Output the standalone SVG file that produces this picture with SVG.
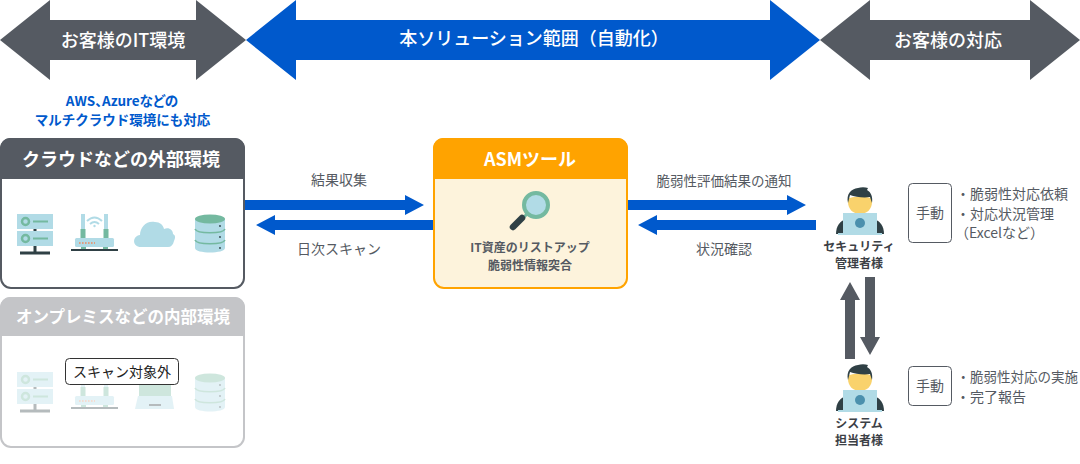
<svg xmlns="http://www.w3.org/2000/svg" width="1080" height="464" viewBox="0 0 1080 464">
<style>
text{font-family:"Noto Sans CJK JP","Noto Sans",sans-serif;text-anchor:middle}
.b{font-weight:500}.h{font-weight:700}
.w{fill:#fff}.d{fill:#555a62}.k{fill:#3c4046}.bl{fill:#0059cc}
.l{text-anchor:start;fill:#555a62;font-size:14px}
.sv{fill:#b1dbe6}.gr{fill:#74b9a0}.dk{fill:#2f4045}
</style>
<defs>
<g id="server">
<rect x="17" y="214" width="36" height="15" class="sv"/><rect x="17" y="231" width="36" height="15" class="sv"/>
<circle cx="25.500" cy="221.500" r="3.500" fill="none" stroke="#74b9a0" stroke-width="2.500"/><circle cx="25.500" cy="238.500" r="3.500" fill="none" stroke="#74b9a0" stroke-width="2.500"/>
<rect x="33" y="220.500" width="15" height="2" class="gr"/><rect x="33" y="237.500" width="15" height="2" class="gr"/>
<rect x="33.500" y="229" width="3" height="2" class="dk"/><rect x="33.500" y="246" width="3" height="8" class="dk"/><rect x="20" y="251.500" width="30" height="3" class="dk"/>
</g>
<g id="router">
<rect x="81" y="214" width="4" height="16" class="sv"/><rect x="104" y="214" width="4" height="16" class="sv"/>
<rect x="80.500" y="229" width="5" height="10" class="gr"/><rect x="103.500" y="229" width="5" height="10" class="gr"/>
<path d="M87 221Q94.500 214 102 221M90 224Q94.500 220 99 224" fill="none" stroke="#b1dbe6" stroke-width="2"/><circle cx="94.500" cy="226" r="1.200" class="sv"/>
<rect x="75" y="238" width="39" height="9" rx="1.500" class="sv"/>
<rect x="81" y="247" width="5" height="2" class="gr"/><rect x="103" y="247" width="5" height="2" class="gr"/>
<path d="M79 243h16" stroke="#f08a5d" stroke-width="1.600" stroke-dasharray="1.600 1.400"/>
<rect x="71" y="249" width="47" height="2" class="dk"/>
</g>
<g id="db">
<path d="M195 219v29c0 6 30 6 30 0v-29z" class="sv"/><ellipse cx="210" cy="219" rx="15" ry="4.500" class="gr"/>
<path d="M195 229c2 5 28 5 30 0M195 240c2 5 28 5 30 0" fill="none" stroke="#74b9a0" stroke-width="1.600"/>
<circle cx="220" cy="226" r=".9" class="dk"/><circle cx="220" cy="237" r=".9" class="dk"/><circle cx="220" cy="248" r=".9" class="dk"/>
</g>
<g id="person">
<path d="M0 47c0-8 4-13 10-15L38 32c6 2 10 7 10 15z" class="dk"/>
<path d="M12 12v3c0 7 5 12 12 12s12-5 12-12v-3c-2-3-22-3-24 0z" fill="#f9d26c"/>
<path d="M12 16c-2-9 3-14 10-15 3-1 7-1 10 0l-1 2c4 2 6 7 5 13l-2-6c-6 1-15 0-20-2z" class="dk"/>
<rect x="7" y="26" width="34" height="21" class="sv"/><rect x="2" y="46" width="44" height="2" class="sv"/>
<circle cx="24" cy="36" r="5" fill="#4b90ad"/>
</g>
</defs>

<g id="connectors">
<path class="d" d="M0 40 50 0V20H196V0L246 40 196 80V60H50V80Z"/>
<path class="bl" d="M246 40 296 0V20H770V0L820 40 770 80V60H296V80Z"/>
<path class="d" d="M820 40 870 0V20H1030V0L1080 40 1030 80V60H870V80Z"/>
<path class="bl" d="M244 200H405V195L424 205 405 215V210H244Z"/>
<path class="bl" d="M433 220H275V215L256 225 275 235V230H433Z"/>
<path class="bl" d="M628 200H787V195L806 205 787 215V210H628Z"/>
<path class="bl" d="M816 220H657V215L638 225 657 235V230H816Z"/>
<path class="d" d="M845 359V300H840L850 282 860 300H855V359Z"/>
<path class="d" d="M865 277H875V337H880L870 355 860 337H865Z"/>
</g>

<g id="band-labels">
<text class="b w" x="123" y="47" font-size="18">お客様のIT環境</text>
<text class="b w" x="534" y="45" font-size="18">本ソリューション範囲（自動化）</text>
<text class="b w" x="948" y="47" font-size="18">お客様の対応</text>
</g>

<g id="note"><text class="h bl" x="122" y="106" font-size="13.500" style="font-feature-settings:'palt'">AWS、Azureなどの</text><text class="h bl" x="122.500" y="125" font-size="13.500">マルチクラウド環境にも対応</text></g>

<g id="cloud-env">
<rect x="1" y="139" width="243" height="149" rx="10" fill="#fff" stroke="#555a62" stroke-width="2"/>
<path class="d" d="M0 179V148a10 10 0 0 1 10-10H235a10 10 0 0 1 10 10V179Z"/>
<text class="h w" x="121" y="166" font-size="18">クラウドなどの外部環境</text>
<use href="#server"/><use href="#router"/>
<path class="sv" d="M141 247c-9 0-9-11-1-12 0-8 7-15 15-13 5 0 8 3 9 7 5-2 9 1 9 5 2 1 3 3 1 7-1 4-3 6-6 6z"/>
<use href="#db"/>
</g>

<g id="onprem-env">
<rect x="1" y="298" width="243" height="149" rx="10" fill="#fff" stroke="#c4c5c8" stroke-width="2"/>
<path fill="#c4c5c8" d="M0 336V307a10 10 0 0 1 10-10H235a10 10 0 0 1 10 10V336Z"/>
<text class="h w" x="123" y="323" font-size="16.500">オンプレミスなどの内部環境</text>
<g opacity=".35">
<use href="#server" y="158"/><use href="#router" y="158"/>
<rect x="139" y="384" width="32" height="12" class="gr"/><path class="sv" d="M138 396h34l2 13h-39z"/><rect x="149" y="404" width="12" height="2" class="dk"/>
<use href="#db" y="159"/>
</g>
<rect x="65.500" y="358.500" width="113" height="26" rx="4" fill="#fff" stroke="#333" stroke-width="1"/>
<text x="122" y="377" font-size="14" fill="#222">スキャン対象外</text>
</g>

<g id="asm-tool">
<rect x="434" y="139" width="193" height="149" rx="10" fill="#fdf3dc" stroke="#ffa300" stroke-width="2"/>
<path fill="#ffa300" d="M433 179V148a10 10 0 0 1 10-10H618a10 10 0 0 1 10 10V179Z"/>
<text class="h w" x="530" y="166" font-size="18">ASMツール</text>
<circle cx="536" cy="205" r="12" class="sv" stroke="#74b9a0" stroke-width="4"/>
<path d="M527 214l-5 5" stroke="#74b9a0" stroke-width="3"/>
<path d="M522 218l-9 9" stroke="#2f4045" stroke-width="6.500" stroke-linecap="round"/>
<text class="h" x="530" y="252" font-size="12" fill="#555a62">IT資産のリストアップ</text>
<text class="h" x="530" y="270" font-size="12" fill="#555a62">脆弱性情報突合</text>
</g>

<g id="connector-labels">
<text class="d" x="339" y="185" font-size="14">結果収集</text>
<text class="d" x="339" y="254" font-size="14">日次スキャン</text>
<text class="d" x="724" y="186" font-size="13.500">脆弱性評価結果の通知</text>
<text class="d" x="724" y="254" font-size="14">状況確認</text>
</g>

<g id="security-admin">
<use href="#person" x="836" y="187"/>
<text class="h k" x="859" y="251" font-size="12">セキュリティ</text>
<text class="h k" x="859" y="268" font-size="12">管理者様</text>
</g>
<g id="manual-1">
<rect x="908.500" y="183.500" width="43" height="59" rx="4" fill="#fff" stroke="#555a62"/>
<text class="d" x="930" y="218" font-size="14">手動</text>
<text class="l" x="956" y="199">・脆弱性対応依頼</text>
<text class="l" x="956" y="219">・対応状況管理</text>
<text class="l" x="955" y="238">（Excelなど）</text>
</g>
<g id="system-admin">
<use href="#person" x="836" y="364"/>
<text class="h k" x="859" y="428" font-size="12">システム</text>
<text class="h k" x="859" y="445" font-size="12">担当者様</text>
</g>
<g id="manual-2">
<rect x="908.500" y="366.500" width="43" height="39" rx="4" fill="#fff" stroke="#555a62"/>
<text class="d" x="930" y="391" font-size="14">手動</text>
<text class="l" x="956.500" y="382" style="font-size:13.500px">・脆弱性対応の実施</text>
<text class="l" x="956" y="402">・完了報告</text>
</g>
</svg>
